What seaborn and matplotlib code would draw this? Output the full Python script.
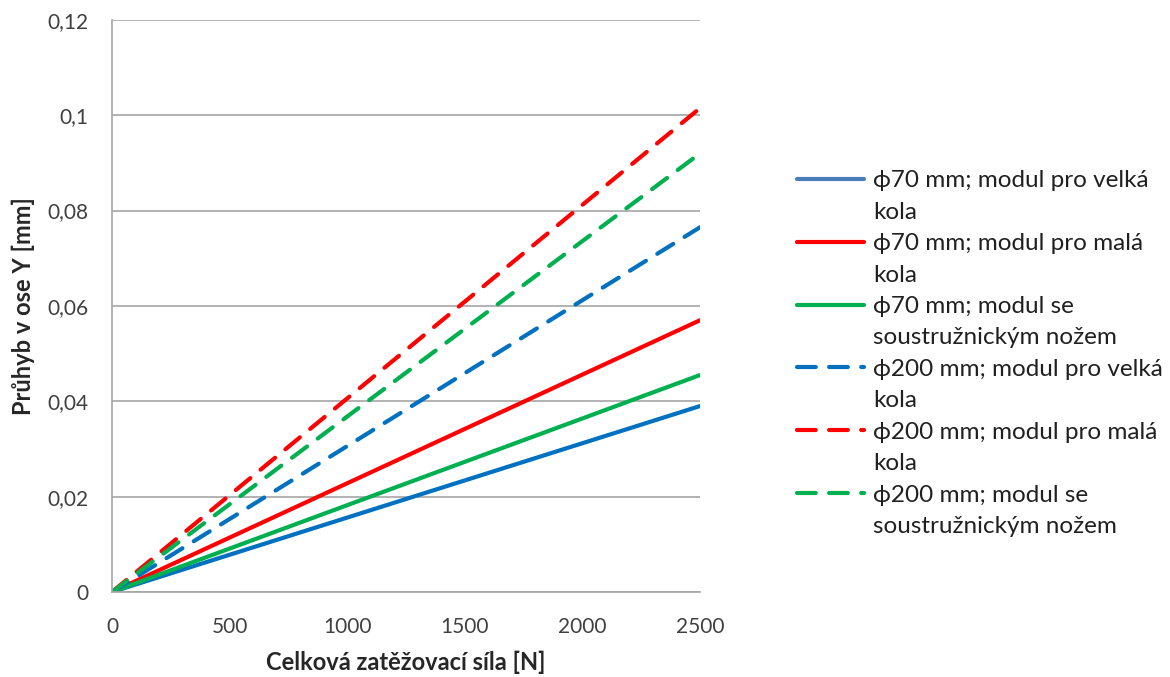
import seaborn as sns
import matplotlib.pyplot as plt
import pandas as pd

# data
sila = [0, 500, 1000, 1500, 2000, 2500]
d70_velka = [0, 0.0078, 0.0156, 0.0234, 0.0312, 0.039]
d70_mala = [0, 0.0114, 0.0228, 0.0342, 0.0456, 0.057]
d70_nuz = [0, 0.0091, 0.0182, 0.0273, 0.0364, 0.0455]
d200_velka = [0, 0.0153, 0.0306, 0.0459, 0.0612, 0.0765]
d200_mala = [0, 0.0203, 0.0406, 0.0609, 0.0812, 0.1015]
d200_nuz = [0, 0.0184, 0.0368, 0.0552, 0.0736, 0.092]

labels = ["ϕ70 mm; modul pro velká\nkola",
          "ϕ70 mm; modul pro malá\nkola",
          "ϕ70 mm; modul se\nsoustružnickým nožem",
          "ϕ200 mm; modul pro velká\nkola",
          "ϕ200 mm; modul pro malá\nkola",
          "ϕ200 mm; modul se\nsoustružnickým nožem"]
series = [d70_velka, d70_mala, d70_nuz, d200_velka, d200_mala, d200_nuz]
colors = ["#0070C0", "#FF0000", "#00B050", "#0070C0", "#FF0000", "#00B050"]

rows = []
for lab, vals in zip(labels, series):
    for x, y in zip(sila, vals):
        rows.append({"sila": x, "pruhyb": y, "serie": lab,
                     "typ": "d200" if "200" in lab else "d70"})
df = pd.DataFrame(rows)

sns.set_style("white")
plt.rcParams['font.family'] = ['Lato', 'DejaVu Sans']

fig = plt.figure(figsize=(11.7, 6.77), dpi=100)
ax = fig.add_axes([0.0957, 0.1256, 0.5026, 0.845])

sns.lineplot(data=df, x="sila", y="pruhyb", hue="serie", style="typ",
             palette=dict(zip(labels, colors)),
             dashes={"d70": "", "d200": (4.5, 3.2)},
             linewidth=3, ax=ax, legend=False)
for ln in ax.get_lines():
    ln.set_solid_capstyle("round")
    ln.set_dash_capstyle("round")

ax.set_xlim(0, 2500)
ax.set_ylim(0, 0.12)
ax.set_xticks([0, 500, 1000, 1500, 2000, 2500])
ax.set_yticks([0, 0.02, 0.04, 0.06, 0.08, 0.1, 0.12])
ax.set_yticklabels(["0", "0,02", "0,04", "0,06", "0,08", "0,1", "0,12"])
ax.tick_params(labelsize=15, length=0, colors="#404040")
ax.tick_params(axis="x", pad=18)
ax.tick_params(axis="y", pad=17)
ax.yaxis.grid(True, color="#A6A6A6", linewidth=1.2)
ax.xaxis.grid(False)
for s in ["top", "right"]:
    ax.spines[s].set_visible(False)
for s in ["left", "bottom"]:
    ax.spines[s].set_color("#A6A6A6")
    ax.spines[s].set_linewidth(1.2)

ax.set_xlabel("Celková zatěžovací síla [N]", fontsize=17, fontweight="bold", labelpad=10)
ax.set_ylabel("Průhyb v ose Y [mm]", fontsize=17, fontweight="bold", labelpad=9)

# legend: one row per text line, swatch next to the first line of each entry
handles = ax.get_lines()[:6]
leg_handles = []
leg_labels = []
for i, (h, lab) in enumerate(zip(handles, labels)):
    c = "#4A7EBB" if i == 0 else h.get_color()
    first, second = lab.split("\n")
    leg_handles.append(plt.Line2D([], [], color=c, linewidth=3,
                                  linestyle=h.get_linestyle(),
                                  dashes=(4.5, 3.2) if i >= 3 else (None, None),
                                  solid_capstyle="round", dash_capstyle="round"))
    leg_labels.append(first)
    leg_handles.append(plt.Line2D([], [], linestyle="none"))
    leg_labels.append(second)
leg = fig.legend(leg_handles, leg_labels, loc="upper left",
                 bbox_to_anchor=(0.6624, 0.781), frameon=False, fontsize=17.5,
                 handlelength=2.75, handletextpad=0.4, labelspacing=0.43,
                 labelcolor="#202020")

fig.savefig("out.png", dpi=100)
